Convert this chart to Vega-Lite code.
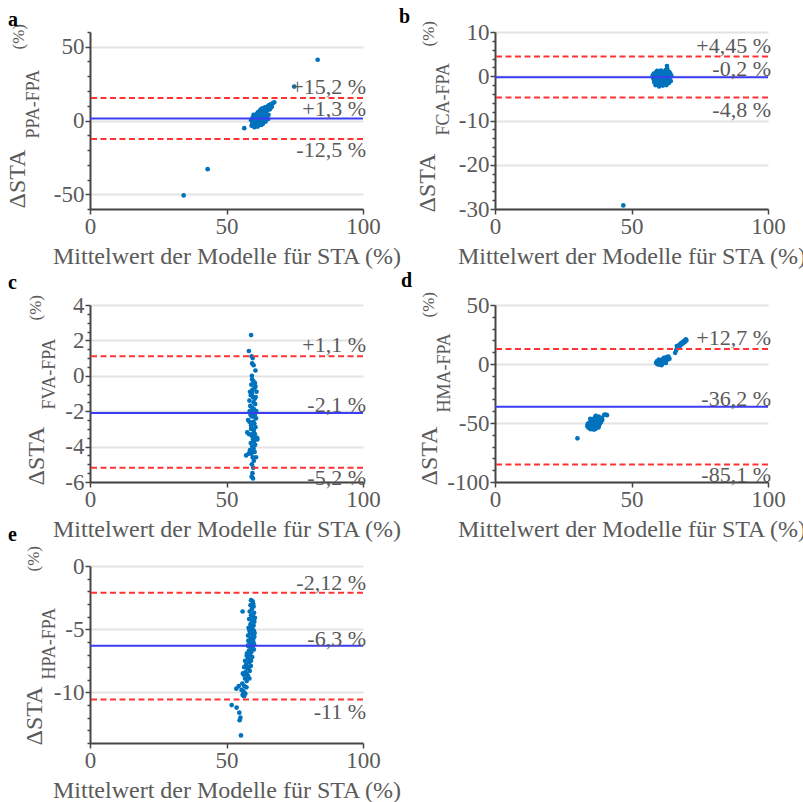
{
"$schema": "https://vega.github.io/schema/vega-lite/v6.json",
"padding": {"left": 5, "top": 6, "right": 0, "bottom": 0},
"columns": 2,
"bounds": "flush",
"spacing": {"row": 84, "column": 132},
"config": {
  "view": {"stroke": null},
  "font": "Liberation Serif",
  "locale": {"number": {"decimal": ",", "thousands": ".", "grouping": [3], "currency": ["", " €"], "minus": "-"}},
  "axis": {"labelFont": "Liberation Serif", "labelFontSize": 23, "labelColor": "#5a5a5a", "titleFont": "Liberation Serif", "titleFontSize": 22, "titleColor": "#5a5a5a", "titleFontWeight": "normal", "domainColor": "#454545", "domainWidth": 2, "tickColor": "#454545", "tickWidth": 1.5, "gridColor": "#e3e3e3", "gridWidth": 2},
  "axisX": {"tickSize": 5, "labelPadding": 1, "titlePadding": 6, "titleFontSize": 24, "labelFlush": false, "grid": false, "zindex": 1},
  "axisY": {"titleAngle": 270, "titleAlign": "left", "titleBaseline": "alphabetic", "labelPadding": 1, "tickSize": 5, "grid": false},
  "text": {"font": "Liberation Serif", "fontSize": 22, "color": "#5a5a5a", "align": "right"},
  "circle": {"size": 22, "color": "#0072BD", "opacity": 1},
  "rule": {"strokeWidth": 2},
  "title": {"anchor": "start", "frame": "group", "font": "Liberation Serif", "fontSize": 20, "fontWeight": "bold", "color": "#000000", "baseline": "alphabetic"}
},
"datasets": {
  "lines": [
    {"p": "a", "v": 15.2, "k": "loa", "pos": "up", "t": "+15,2 %"},
    {"p": "a", "v": 1.3, "k": "mean", "pos": "mid", "t": "+1,3 %"},
    {"p": "a", "v": -12.5, "k": "loa", "pos": "down", "t": "-12,5 %"},
    {"p": "b", "v": 4.45, "k": "loa", "pos": "up", "t": "+4,45 %"},
    {"p": "b", "v": -0.2, "k": "mean", "pos": "mid", "t": "-0,2 %"},
    {"p": "b", "v": -4.8, "k": "loa", "pos": "down", "t": "-4,8 %"},
    {"p": "c", "v": 1.1, "k": "loa", "pos": "up", "t": "+1,1 %"},
    {"p": "c", "v": -2.1, "k": "mean", "pos": "mid", "t": "-2,1 %"},
    {"p": "c", "v": -5.2, "k": "loa", "pos": "down", "t": "-5,2 %"},
    {"p": "d", "v": 12.7, "k": "loa", "pos": "up", "t": "+12,7 %"},
    {"p": "d", "v": -36.2, "k": "mean", "pos": "mid", "t": "-36,2 %"},
    {"p": "d", "v": -85.1, "k": "loa", "pos": "down", "t": "-85,1 %"},
    {"p": "e", "v": -2.12, "k": "loa", "pos": "up", "t": "-2,12 %"},
    {"p": "e", "v": -6.3, "k": "mean", "pos": "mid", "t": "-6,3 %"},
    {"p": "e", "v": -10.55, "k": "loa", "pos": "down", "t": "-11 %"}
  ],
  "pts": [
    {"p":"a","m":59.2,"d":-3.5},{"p":"a","m":59.5,"d":-1.8},{"p":"a","m":59.8,"d":0.5},{"p":"a","m":60.0,"d":-2.6},{"p":"a","m":60.1,"d":1.8},{"p":"a","m":60.3,"d":-0.9},{"p":"a","m":60.4,"d":3.2},{"p":"a","m":60.6,"d":-3.9},{"p":"a","m":60.7,"d":0.1},{"p":"a","m":60.9,"d":2.4},
    {"p":"a","m":61.0,"d":-1.5},{"p":"a","m":61.1,"d":4.5},{"p":"a","m":61.2,"d":-2.9},{"p":"a","m":61.3,"d":1.0},{"p":"a","m":61.5,"d":5.6},{"p":"a","m":61.6,"d":-0.4},{"p":"a","m":61.7,"d":2.9},{"p":"a","m":61.8,"d":-3.2},{"p":"a","m":62.0,"d":0.8},{"p":"a","m":62.1,"d":4.0},
    {"p":"a","m":62.2,"d":6.5},{"p":"a","m":62.3,"d":-1.9},{"p":"a","m":62.4,"d":2.1},{"p":"a","m":62.5,"d":7.4},{"p":"a","m":62.6,"d":-0.6},{"p":"a","m":62.8,"d":3.6},{"p":"a","m":62.9,"d":5.1},{"p":"a","m":63.0,"d":1.3},{"p":"a","m":63.1,"d":8.2},{"p":"a","m":63.2,"d":-1.0},
    {"p":"a","m":63.4,"d":4.7},{"p":"a","m":63.5,"d":6.1},{"p":"a","m":63.6,"d":2.6},{"p":"a","m":63.8,"d":7.9},{"p":"a","m":64.0,"d":0.5},{"p":"a","m":64.1,"d":9.0},{"p":"a","m":64.2,"d":3.2},{"p":"a","m":64.4,"d":5.8},{"p":"a","m":64.6,"d":8.6},{"p":"a","m":64.8,"d":1.8},
    {"p":"a","m":65.0,"d":6.9},{"p":"a","m":65.2,"d":9.7},{"p":"a","m":65.4,"d":3.9},{"p":"a","m":65.6,"d":10.5},{"p":"a","m":65.9,"d":7.6},{"p":"a","m":66.2,"d":11.0},{"p":"a","m":66.6,"d":9.3},{"p":"a","m":67.0,"d":11.8},{"p":"a","m":67.5,"d":12.3},{"p":"a","m":59.0,"d":0.2},
    {"p":"a","m":59.6,"d":2.0},{"p":"a","m":60.2,"d":-4.5},{"p":"a","m":60.8,"d":-0.2},{"p":"a","m":61.4,"d":-4.1},{"p":"a","m":62.7,"d":-3.0},{"p":"a","m":63.3,"d":-2.3},{"p":"a","m":64.3,"d":-0.8},{"p":"a","m":65.3,"d":1.0},{"p":"a","m":59.9,"d":3.8},{"p":"a","m":61.9,"d":5.0},
    {"p":"a","m":83.4,"d":41.2},{"p":"a","m":74.8,"d":23.0},{"p":"a","m":43.1,"d":-33.0},{"p":"a","m":34.3,"d":-50.8},{"p":"a","m":56.5,"d":-5.2},

    {"p":"b","m":58.0,"d":-0.5},{"p":"b","m":58.2,"d":0.6},{"p":"b","m":58.4,"d":-1.4},{"p":"b","m":58.6,"d":0.1},{"p":"b","m":58.8,"d":-2.0},{"p":"b","m":59.0,"d":0.9},{"p":"b","m":59.1,"d":-0.9},{"p":"b","m":59.3,"d":-1.8},{"p":"b","m":59.5,"d":0.3},{"p":"b","m":59.6,"d":-0.3},
    {"p":"b","m":59.8,"d":1.1},{"p":"b","m":60.0,"d":-1.2},{"p":"b","m":60.1,"d":-2.3},{"p":"b","m":60.3,"d":0.5},{"p":"b","m":60.5,"d":-0.7},{"p":"b","m":60.6,"d":-1.9},{"p":"b","m":60.8,"d":1.3},{"p":"b","m":61.0,"d":-0.1},{"p":"b","m":61.1,"d":-1.5},{"p":"b","m":61.3,"d":0.8},
    {"p":"b","m":61.5,"d":-2.1},{"p":"b","m":61.6,"d":-0.6},{"p":"b","m":61.8,"d":1.0},{"p":"b","m":62.0,"d":-1.0},{"p":"b","m":62.1,"d":0.3},{"p":"b","m":62.3,"d":-1.7},{"p":"b","m":62.5,"d":1.4},{"p":"b","m":62.6,"d":-0.4},{"p":"b","m":62.8,"d":-2.0},{"p":"b","m":63.0,"d":0.7},
    {"p":"b","m":63.0,"d":2.3},{"p":"b","m":63.1,"d":1.7},{"p":"b","m":63.2,"d":-1.2},{"p":"b","m":63.4,"d":0.2},{"p":"b","m":63.6,"d":-0.8},{"p":"b","m":63.8,"d":1.0},{"p":"b","m":64.0,"d":-0.3},{"p":"b","m":64.2,"d":0.6},{"p":"b","m":64.4,"d":-1.1},{"p":"b","m":57.8,"d":0.2},
    {"p":"b","m":58.3,"d":-1.0},{"p":"b","m":59.4,"d":1.2},{"p":"b","m":60.2,"d":0.0},{"p":"b","m":60.9,"d":0.4},{"p":"b","m":61.9,"d":-0.2},{"p":"b","m":62.7,"d":0.5},{"p":"b","m":63.3,"d":-0.5},{"p":"b","m":59.9,"d":-0.5},{"p":"b","m":61.4,"d":0.9},{"p":"b","m":62.4,"d":-1.3},
    {"p":"b","m":58.9,"d":-0.2},{"p":"b","m":60.7,"d":-1.1},{"p":"b","m":63.7,"d":-1.5},{"p":"b","m":64.6,"d":0.1},{"p":"b","m":47.0,"d":-29.2},

    {"p":"c","m":59.0,"d":2.3},{"p":"c","m":58.2,"d":1.4},{"p":"c","m":59.2,"d":1.1},{"p":"c","m":59.6,"d":1.0},{"p":"c","m":59.4,"d":0.7},{"p":"c","m":60.6,"d":0.3},{"p":"c","m":59.3,"d":0.0},{"p":"c","m":59.8,"d":-0.3},{"p":"c","m":60.4,"d":-0.4},{"p":"c","m":59.1,"d":-0.5},
    {"p":"c","m":60.2,"d":-0.7},{"p":"c","m":59.5,"d":-0.8},{"p":"c","m":61.0,"d":-0.9},{"p":"c","m":58.9,"d":-1.1},{"p":"c","m":59.7,"d":-1.2},{"p":"c","m":60.3,"d":-1.3},{"p":"c","m":58.4,"d":-1.4},{"p":"c","m":59.9,"d":-1.5},{"p":"c","m":60.5,"d":-1.6},{"p":"c","m":58.7,"d":-1.7},
    {"p":"c","m":59.4,"d":-1.8},{"p":"c","m":60.1,"d":-1.9},{"p":"c","m":58.5,"d":-2.0},{"p":"c","m":59.6,"d":-2.1},{"p":"c","m":60.4,"d":-2.2},{"p":"c","m":59.2,"d":-2.3},{"p":"c","m":60.8,"d":-2.4},{"p":"c","m":57.9,"d":-2.5},{"p":"c","m":59.8,"d":-2.6},{"p":"c","m":60.2,"d":-2.7},
    {"p":"c","m":59.0,"d":-2.8},{"p":"c","m":60.6,"d":-2.9},{"p":"c","m":58.4,"d":-2.6},{"p":"c","m":59.5,"d":-3.0},{"p":"c","m":60.0,"d":-3.1},{"p":"c","m":57.6,"d":-3.2},{"p":"c","m":60.4,"d":-3.3},{"p":"c","m":59.3,"d":-3.4},{"p":"c","m":61.2,"d":-3.5},{"p":"c","m":58.3,"d":-3.3},
    {"p":"c","m":59.7,"d":-3.6},{"p":"c","m":60.1,"d":-3.7},{"p":"c","m":58.9,"d":-3.8},{"p":"c","m":60.5,"d":-3.9},{"p":"c","m":59.4,"d":-4.0},{"p":"c","m":59.9,"d":-4.1},{"p":"c","m":58.6,"d":-4.2},{"p":"c","m":60.3,"d":-4.3},{"p":"c","m":59.1,"d":-4.4},{"p":"c","m":57.2,"d":-4.5},
    {"p":"c","m":59.6,"d":-4.6},{"p":"c","m":60.0,"d":-4.8},{"p":"c","m":59.3,"d":-5.0},{"p":"c","m":59.8,"d":-5.2},{"p":"c","m":59.5,"d":-5.5},{"p":"c","m":59.2,"d":-5.7},{"p":"c","m":59.7,"d":-5.8},{"p":"c","m":59.4,"d":-0.2},{"p":"c","m":60.7,"d":-1.2},{"p":"c","m":59.1,"d":-2.0},
    {"p":"c","m":60.0,"d":-2.3},{"p":"c","m":59.6,"d":-3.3},{"p":"c","m":60.9,"d":-2.0},{"p":"c","m":59.9,"d":0.6},{"p":"c","m":59.3,"d":-1.0},{"p":"c","m":60.2,"d":-3.5},{"p":"c","m":58.8,"d":-2.2},{"p":"c","m":59.5,"d":-4.3},{"p":"c","m":60.6,"d":-0.6},{"p":"c","m":59.0,"d":-3.0},
    {"p":"c","m":61.3,"d":-3.6},{"p":"c","m":58.1,"d":-4.4},{"p":"c","m":60.8,"d":-4.6},{"p":"c","m":58.6,"d":-0.9},

    {"p":"d","m":59.0,"d":1.0},{"p":"d","m":59.3,"d":2.2},{"p":"d","m":59.6,"d":0.3},{"p":"d","m":59.9,"d":1.8},{"p":"d","m":60.1,"d":-0.5},{"p":"d","m":60.3,"d":2.9},{"p":"d","m":60.5,"d":1.1},{"p":"d","m":60.7,"d":0.0},{"p":"d","m":60.9,"d":3.3},{"p":"d","m":61.1,"d":1.9},
    {"p":"d","m":61.3,"d":0.6},{"p":"d","m":61.5,"d":4.0},{"p":"d","m":61.6,"d":2.5},{"p":"d","m":61.8,"d":1.2},{"p":"d","m":62.0,"d":3.7},{"p":"d","m":62.2,"d":4.8},{"p":"d","m":62.3,"d":2.0},{"p":"d","m":62.5,"d":5.5},{"p":"d","m":62.7,"d":3.1},{"p":"d","m":62.9,"d":4.5},
    {"p":"d","m":63.1,"d":5.9},{"p":"d","m":63.3,"d":3.8},{"p":"d","m":63.6,"d":5.2},{"p":"d","m":63.9,"d":4.4},{"p":"d","m":60.0,"d":3.8},{"p":"d","m":61.0,"d":-1.0},{"p":"d","m":62.6,"d":0.9},{"p":"d","m":59.5,"d":-0.2},{"p":"d","m":61.9,"d":5.3},{"p":"d","m":63.5,"d":6.3},
    {"p":"d","m":66.0,"d":9.5},{"p":"d","m":66.4,"d":11.8},{"p":"d","m":66.8,"d":13.5},{"p":"d","m":67.1,"d":15.0},{"p":"d","m":67.5,"d":16.2},{"p":"d","m":67.8,"d":15.5},{"p":"d","m":68.1,"d":17.4},{"p":"d","m":68.4,"d":16.8},{"p":"d","m":68.7,"d":18.5},{"p":"d","m":69.0,"d":17.9},
    {"p":"d","m":69.3,"d":19.6},{"p":"d","m":69.6,"d":18.8},{"p":"d","m":69.9,"d":20.8},{"p":"d","m":70.1,"d":20.0},{"p":"d","m":66.6,"d":15.2},{"p":"d","m":67.3,"d":14.0},
    {"p":"d","m":33.8,"d":-52.5},{"p":"d","m":34.0,"d":-50.8},{"p":"d","m":34.2,"d":-54.0},{"p":"d","m":34.4,"d":-51.9},{"p":"d","m":34.6,"d":-49.6},{"p":"d","m":34.8,"d":-53.2},{"p":"d","m":35.0,"d":-55.2},{"p":"d","m":35.1,"d":-50.4},{"p":"d","m":35.3,"d":-52.8},{"p":"d","m":35.5,"d":-48.7},
    {"p":"d","m":35.6,"d":-54.5},{"p":"d","m":35.8,"d":-51.3},{"p":"d","m":36.0,"d":-46.9},{"p":"d","m":36.1,"d":-53.6},{"p":"d","m":36.3,"d":-49.8},{"p":"d","m":36.5,"d":-52.2},{"p":"d","m":36.6,"d":-45.3},{"p":"d","m":36.8,"d":-55.0},{"p":"d","m":37.0,"d":-50.9},{"p":"d","m":37.1,"d":-48.2},
    {"p":"d","m":37.3,"d":-53.1},{"p":"d","m":37.5,"d":-46.4},{"p":"d","m":37.6,"d":-51.6},{"p":"d","m":37.8,"d":-49.2},{"p":"d","m":38.0,"d":-44.5},{"p":"d","m":38.1,"d":-52.4},{"p":"d","m":38.3,"d":-47.8},{"p":"d","m":38.5,"d":-50.3},{"p":"d","m":38.7,"d":-46.0},{"p":"d","m":38.9,"d":-48.9},
    {"p":"d","m":39.1,"d":-45.6},{"p":"d","m":39.3,"d":-47.2},{"p":"d","m":40.0,"d":-43.1},{"p":"d","m":40.5,"d":-42.8},{"p":"d","m":41.0,"d":-43.4},{"p":"d","m":30.2,"d":-63.0},{"p":"d","m":35.4,"d":-47.0},{"p":"d","m":36.9,"d":-44.0},{"p":"d","m":34.9,"d":-46.5},{"p":"d","m":36.2,"d":-55.6},
    {"p":"d","m":37.9,"d":-53.8},{"p":"d","m":35.7,"d":-50.0},{"p":"d","m":36.4,"d":-48.0},{"p":"d","m":37.2,"d":-52.0},

    {"p":"e","m":59.0,"d":-2.7},{"p":"e","m":59.6,"d":-2.8},{"p":"e","m":58.8,"d":-3.1},{"p":"e","m":59.9,"d":-3.2},{"p":"e","m":59.3,"d":-3.4},{"p":"e","m":58.5,"d":-3.6},{"p":"e","m":60.1,"d":-3.7},{"p":"e","m":59.0,"d":-3.9},{"p":"e","m":59.7,"d":-4.0},{"p":"e","m":58.3,"d":-4.2},
    {"p":"e","m":59.4,"d":-4.3},{"p":"e","m":60.2,"d":-4.4},{"p":"e","m":58.8,"d":-4.6},{"p":"e","m":59.9,"d":-4.7},{"p":"e","m":58.1,"d":-4.9},{"p":"e","m":59.2,"d":-5.0},{"p":"e","m":60.0,"d":-5.1},{"p":"e","m":58.6,"d":-5.3},{"p":"e","m":59.5,"d":-5.4},{"p":"e","m":57.9,"d":-5.5},
    {"p":"e","m":60.2,"d":-5.6},{"p":"e","m":58.9,"d":-5.7},{"p":"e","m":59.7,"d":-5.8},{"p":"e","m":58.3,"d":-6.0},{"p":"e","m":59.2,"d":-6.1},{"p":"e","m":60.1,"d":-6.2},{"p":"e","m":57.8,"d":-6.3},{"p":"e","m":58.7,"d":-6.4},{"p":"e","m":59.6,"d":-6.5},{"p":"e","m":58.2,"d":-6.7},
    {"p":"e","m":59.1,"d":-6.8},{"p":"e","m":57.5,"d":-6.9},{"p":"e","m":58.6,"d":-7.0},{"p":"e","m":59.4,"d":-7.2},{"p":"e","m":57.9,"d":-7.3},{"p":"e","m":56.8,"d":-7.5},{"p":"e","m":58.3,"d":-7.6},{"p":"e","m":57.2,"d":-7.8},{"p":"e","m":58.9,"d":-7.9},{"p":"e","m":56.5,"d":-8.0},
    {"p":"e","m":57.7,"d":-8.1},{"p":"e","m":58.5,"d":-8.3},{"p":"e","m":57.0,"d":-8.4},{"p":"e","m":56.3,"d":-8.6},{"p":"e","m":57.9,"d":-8.7},{"p":"e","m":56.8,"d":-8.9},{"p":"e","m":57.4,"d":-9.1},{"p":"e","m":55.8,"d":-9.3},{"p":"e","m":56.5,"d":-9.5},{"p":"e","m":57.3,"d":-9.6},
    {"p":"e","m":55.5,"d":-9.8},{"p":"e","m":56.2,"d":-9.9},{"p":"e","m":56.9,"d":-10.1},{"p":"e","m":56.4,"d":-10.3},{"p":"e","m":55.9,"d":-10.2},{"p":"e","m":59.5,"d":-4.8},{"p":"e","m":60.3,"d":-5.3},{"p":"e","m":58.4,"d":-5.1},{"p":"e","m":59.8,"d":-6.0},{"p":"e","m":58.0,"d":-7.1},
    {"p":"e","m":59.0,"d":-7.5},{"p":"e","m":57.5,"d":-8.6},{"p":"e","m":58.2,"d":-8.0},{"p":"e","m":56.0,"d":-8.5},{"p":"e","m":58.4,"d":-8.9},{"p":"e","m":59.8,"d":-3.0},{"p":"e","m":60.4,"d":-4.1},{"p":"e","m":60.0,"d":-6.6},{"p":"e","m":58.0,"d":-5.9},{"p":"e","m":57.4,"d":-7.1},
    {"p":"e","m":55.9,"d":-3.6},{"p":"e","m":51.9,"d":-11.0},{"p":"e","m":53.7,"d":-11.2},{"p":"e","m":54.7,"d":-11.6},{"p":"e","m":55.1,"d":-12.0},{"p":"e","m":54.8,"d":-12.2},{"p":"e","m":55.3,"d":-13.4},{"p":"e","m":53.6,"d":-9.7},{"p":"e","m":54.5,"d":-9.5}
  ]
},
"concat": [
  {
    "width": 273, "height": 189,
    "title": {"text": "a", "dx": -82, "offset": -6},
    "resolve": {"axis": {"y": "independent"}},
    "layer": [
      {"data": {"name": "pts"}, "transform": [{"filter": "datum.p === 'a'"}], "mark": {"type": "circle"},
       "encoding": {
         "x": {"field": "m", "type": "quantitative", "scale": {"domain": [0, 100]}, "axis": {"values": [0, 50, 100], "offset": -12, "title": "Mittelwert der Modelle für STA (%)"}},
         "y": {"field": "d", "type": "quantitative", "scale": {"domain": [-60, 60], "range": [177, 0]}, "axis": {"orient": "left", "values": [-50, 0, 50], "grid": true, "title": "ΔSTA", "titleFontSize": 24, "titleX": -66, "titleY": 176}}}},
      {"data": {"name": "lines"}, "transform": [{"filter": "datum.p === 'a'"}], "mark": {"type": "rule"},
       "encoding": {
         "y": {"field": "v", "type": "quantitative", "scale": {"domain": [-60, 60], "range": [177, 0]}, "axis": {"orient": "left", "values": [-60, -40, -30, -20, -10, 10, 20, 30, 40, 60], "labels": false, "domain": false, "tickSize": 3, "title": "PPA-FPA", "titleFontSize": 18, "titleX": -52, "titleY": 106}},
         "color": {"field": "k", "type": "nominal", "scale": {"domain": ["mean", "loa"], "range": ["#3c3cf5", "#ff3333"]}, "legend": null},
         "strokeDash": {"field": "k", "type": "nominal", "scale": {"domain": ["mean", "loa"], "range": [[1, 0], [6, 3.5]]}, "legend": null}}},
      {"data": {"name": "lines"}, "transform": [{"filter": "datum.p === 'a' && datum.pos === 'up'"}], "mark": {"type": "text", "baseline": "alphabetic", "dx": 3, "dy": -4},
       "encoding": {"x": {"datum": 100, "type": "quantitative", "scale": {"domain": [0, 100]}, "axis": {"values": [0, 50, 100], "offset": -12, "title": "Mittelwert der Modelle für STA (%)"}}, "y": {"field": "v", "type": "quantitative", "scale": {"domain": [-60, 60], "range": [177, 0]}, "axis": {"orient": "left", "labels": false, "domain": false, "ticks": false, "title": "(%)", "titleFontSize": 17, "titleX": -67, "titleY": 17}}, "text": {"field": "t"}}},
      {"data": {"name": "lines"}, "transform": [{"filter": "datum.p === 'a' && datum.pos === 'mid'"}], "mark": {"type": "text", "baseline": "alphabetic", "dx": 3, "dy": -3},
       "encoding": {"x": {"datum": 100, "type": "quantitative", "scale": {"domain": [0, 100]}, "axis": {"values": [0, 50, 100], "offset": -12, "title": "Mittelwert der Modelle für STA (%)"}}, "y": {"field": "v", "type": "quantitative", "scale": {"domain": [-60, 60], "range": [177, 0]}, "axis": null}, "text": {"field": "t"}}},
      {"data": {"name": "lines"}, "transform": [{"filter": "datum.p === 'a' && datum.pos === 'down'"}], "mark": {"type": "text", "baseline": "top", "dx": 3, "dy": 1},
       "encoding": {"x": {"datum": 100, "type": "quantitative", "scale": {"domain": [0, 100]}, "axis": {"values": [0, 50, 100], "offset": -12, "title": "Mittelwert der Modelle für STA (%)"}}, "y": {"field": "v", "type": "quantitative", "scale": {"domain": [-60, 60], "range": [177, 0]}, "axis": null}, "text": {"field": "t"}}}
    ]
  },
  {
    "width": 273, "height": 189,
    "title": {"text": "b", "dx": -96, "offset": -6},
    "resolve": {"axis": {"y": "independent"}},
    "layer": [
      {"data": {"name": "pts"}, "transform": [{"filter": "datum.p === 'b'"}], "mark": {"type": "circle"},
       "encoding": {
         "x": {"field": "m", "type": "quantitative", "scale": {"domain": [0, 100]}, "axis": {"values": [0, 50, 100], "offset": -12, "title": "Mittelwert der Modelle für STA (%)"}},
         "y": {"field": "d", "type": "quantitative", "scale": {"domain": [-30, 10], "range": [177, 0]}, "axis": {"orient": "left", "values": [-30, -20, -10, 0, 10], "grid": true, "title": "ΔSTA", "titleFontSize": 24, "titleX": -61, "titleY": 180}}}},
      {"data": {"name": "lines"}, "transform": [{"filter": "datum.p === 'b'"}], "mark": {"type": "rule"},
       "encoding": {
         "y": {"field": "v", "type": "quantitative", "scale": {"domain": [-30, 10], "range": [177, 0]}, "axis": {"orient": "left", "values": [-28, -26, -24, -22, -18, -16, -14, -12, -8, -6, -4, -2, 2, 4, 6, 8], "labels": false, "domain": false, "tickSize": 3, "title": "FCA-FPA", "titleFontSize": 18, "titleX": -47, "titleY": 103}},
         "color": {"field": "k", "type": "nominal", "scale": {"domain": ["mean", "loa"], "range": ["#3c3cf5", "#ff3333"]}, "legend": null},
         "strokeDash": {"field": "k", "type": "nominal", "scale": {"domain": ["mean", "loa"], "range": [[1, 0], [6, 3.5]]}, "legend": null}}},
      {"data": {"name": "lines"}, "transform": [{"filter": "datum.p === 'b' && datum.pos === 'up'"}], "mark": {"type": "text", "baseline": "alphabetic", "dx": 3, "dy": -4},
       "encoding": {"x": {"datum": 100, "type": "quantitative", "scale": {"domain": [0, 100]}, "axis": {"values": [0, 50, 100], "offset": -12, "title": "Mittelwert der Modelle für STA (%)"}}, "y": {"field": "v", "type": "quantitative", "scale": {"domain": [-30, 10], "range": [177, 0]}, "axis": {"orient": "left", "labels": false, "domain": false, "ticks": false, "title": "(%)", "titleFontSize": 17, "titleX": -62, "titleY": 14}}, "text": {"field": "t"}}},
      {"data": {"name": "lines"}, "transform": [{"filter": "datum.p === 'b' && datum.pos === 'mid'"}], "mark": {"type": "text", "baseline": "alphabetic", "dx": 3, "dy": -1},
       "encoding": {"x": {"datum": 100, "type": "quantitative", "scale": {"domain": [0, 100]}, "axis": {"values": [0, 50, 100], "offset": -12, "title": "Mittelwert der Modelle für STA (%)"}}, "y": {"field": "v", "type": "quantitative", "scale": {"domain": [-30, 10], "range": [177, 0]}, "axis": null}, "text": {"field": "t"}}},
      {"data": {"name": "lines"}, "transform": [{"filter": "datum.p === 'b' && datum.pos === 'down'"}], "mark": {"type": "text", "baseline": "top", "dx": 3, "dy": 3},
       "encoding": {"x": {"datum": 100, "type": "quantitative", "scale": {"domain": [0, 100]}, "axis": {"values": [0, 50, 100], "offset": -12, "title": "Mittelwert der Modelle für STA (%)"}}, "y": {"field": "v", "type": "quantitative", "scale": {"domain": [-30, 10], "range": [177, 0]}, "axis": null}, "text": {"field": "t"}}}
    ]
  },
  {
    "width": 273, "height": 177,
    "title": {"text": "c", "dx": -82, "offset": 1},
    "resolve": {"axis": {"y": "independent"}},
    "layer": [
      {"data": {"name": "pts"}, "transform": [{"filter": "datum.p === 'c'"}], "mark": {"type": "circle"},
       "encoding": {
         "x": {"field": "m", "type": "quantitative", "scale": {"domain": [0, 100]}, "axis": {"values": [0, 50, 100], "title": "Mittelwert der Modelle für STA (%)"}},
         "y": {"field": "d", "type": "quantitative", "scale": {"domain": [-6, 4]}, "axis": {"orient": "left", "values": [-6, -4, -2, 0, 2, 4], "grid": true, "title": "ΔSTA", "titleFontSize": 24, "titleX": -47, "titleY": 180}}}},
      {"data": {"name": "lines"}, "transform": [{"filter": "datum.p === 'c'"}], "mark": {"type": "rule"},
       "encoding": {
         "y": {"field": "v", "type": "quantitative", "scale": {"domain": [-6, 4]}, "axis": {"orient": "left", "values": [-5.5, -5, -4.5, -3.5, -3, -2.5, -1.5, -1, -0.5, 0.5, 1, 1.5, 2.5, 3, 3.5], "labels": false, "domain": false, "tickSize": 3, "title": "FVA-FPA", "titleFontSize": 18, "titleX": -36, "titleY": 104}},
         "color": {"field": "k", "type": "nominal", "scale": {"domain": ["mean", "loa"], "range": ["#3c3cf5", "#ff3333"]}, "legend": null},
         "strokeDash": {"field": "k", "type": "nominal", "scale": {"domain": ["mean", "loa"], "range": [[1, 0], [6, 3.5]]}, "legend": null}}},
      {"data": {"name": "lines"}, "transform": [{"filter": "datum.p === 'c' && datum.pos === 'up'"}], "mark": {"type": "text", "baseline": "alphabetic", "dx": 3, "dy": -4},
       "encoding": {"x": {"datum": 100, "type": "quantitative", "scale": {"domain": [0, 100]}, "axis": {"values": [0, 50, 100], "title": "Mittelwert der Modelle für STA (%)"}}, "y": {"field": "v", "type": "quantitative", "scale": {"domain": [-6, 4]}, "axis": {"orient": "left", "labels": false, "domain": false, "ticks": false, "title": "(%)", "titleFontSize": 17, "titleX": -50, "titleY": 15}}, "text": {"field": "t"}}},
      {"data": {"name": "lines"}, "transform": [{"filter": "datum.p === 'c' && datum.pos === 'mid'"}], "mark": {"type": "text", "baseline": "alphabetic", "dx": 3, "dy": -1},
       "encoding": {"x": {"datum": 100, "type": "quantitative", "scale": {"domain": [0, 100]}, "axis": {"values": [0, 50, 100], "title": "Mittelwert der Modelle für STA (%)"}}, "y": {"field": "v", "type": "quantitative", "scale": {"domain": [-6, 4]}, "axis": null}, "text": {"field": "t"}}},
      {"data": {"name": "lines"}, "transform": [{"filter": "datum.p === 'c' && datum.pos === 'down'"}], "mark": {"type": "text", "baseline": "top", "dx": 3, "dy": 0},
       "encoding": {"x": {"datum": 100, "type": "quantitative", "scale": {"domain": [0, 100]}, "axis": {"values": [0, 50, 100], "title": "Mittelwert der Modelle für STA (%)"}}, "y": {"field": "v", "type": "quantitative", "scale": {"domain": [-6, 4]}, "axis": null}, "text": {"field": "t"}}}
    ]
  },
  {
    "width": 273, "height": 177,
    "title": {"text": "d", "dx": -94, "offset": 1},
    "resolve": {"axis": {"y": "independent"}},
    "layer": [
      {"data": {"name": "pts"}, "transform": [{"filter": "datum.p === 'd'"}], "mark": {"type": "circle"},
       "encoding": {
         "x": {"field": "m", "type": "quantitative", "scale": {"domain": [0, 100]}, "axis": {"values": [0, 50, 100], "title": "Mittelwert der Modelle für STA (%)"}},
         "y": {"field": "d", "type": "quantitative", "scale": {"domain": [-100, 50]}, "axis": {"orient": "left", "values": [-100, -50, 0, 50], "grid": true, "title": "ΔSTA", "titleFontSize": 24, "titleX": -59, "titleY": 180}}}},
      {"data": {"name": "lines"}, "transform": [{"filter": "datum.p === 'd'"}], "mark": {"type": "rule"},
       "encoding": {
         "y": {"field": "v", "type": "quantitative", "scale": {"domain": [-100, 50]}, "axis": {"orient": "left", "values": [-90, -80, -70, -60, -40, -30, -20, -10, 10, 20, 30, 40], "labels": false, "domain": false, "tickSize": 3, "title": "HMA-FPA", "titleFontSize": 18, "titleX": -46, "titleY": 107}},
         "color": {"field": "k", "type": "nominal", "scale": {"domain": ["mean", "loa"], "range": ["#3c3cf5", "#ff3333"]}, "legend": null},
         "strokeDash": {"field": "k", "type": "nominal", "scale": {"domain": ["mean", "loa"], "range": [[1, 0], [6, 3.5]]}, "legend": null}}},
      {"data": {"name": "lines"}, "transform": [{"filter": "datum.p === 'd' && datum.pos === 'up'"}], "mark": {"type": "text", "baseline": "alphabetic", "dx": 3, "dy": -4},
       "encoding": {"x": {"datum": 100, "type": "quantitative", "scale": {"domain": [0, 100]}, "axis": {"values": [0, 50, 100], "title": "Mittelwert der Modelle für STA (%)"}}, "y": {"field": "v", "type": "quantitative", "scale": {"domain": [-100, 50]}, "axis": {"orient": "left", "labels": false, "domain": false, "ticks": false, "title": "(%)", "titleFontSize": 17, "titleX": -62, "titleY": 12}}, "text": {"field": "t"}}},
      {"data": {"name": "lines"}, "transform": [{"filter": "datum.p === 'd' && datum.pos === 'mid'"}], "mark": {"type": "text", "baseline": "alphabetic", "dx": 3, "dy": -1},
       "encoding": {"x": {"datum": 100, "type": "quantitative", "scale": {"domain": [0, 100]}, "axis": {"values": [0, 50, 100], "title": "Mittelwert der Modelle für STA (%)"}}, "y": {"field": "v", "type": "quantitative", "scale": {"domain": [-100, 50]}, "axis": null}, "text": {"field": "t"}}},
      {"data": {"name": "lines"}, "transform": [{"filter": "datum.p === 'd' && datum.pos === 'down'"}], "mark": {"type": "text", "baseline": "top", "dx": 3, "dy": 1},
       "encoding": {"x": {"datum": 100, "type": "quantitative", "scale": {"domain": [0, 100]}, "axis": {"values": [0, 50, 100], "title": "Mittelwert der Modelle für STA (%)"}}, "y": {"field": "v", "type": "quantitative", "scale": {"domain": [-100, 50]}, "axis": null}, "text": {"field": "t"}}}
    ]
  },
  {
    "width": 273, "height": 177,
    "title": {"text": "e", "dx": -82, "offset": 1},
    "resolve": {"axis": {"y": "independent"}},
    "layer": [
      {"data": {"name": "pts"}, "transform": [{"filter": "datum.p === 'e'"}], "mark": {"type": "circle"},
       "encoding": {
         "x": {"field": "m", "type": "quantitative", "scale": {"domain": [0, 100]}, "axis": {"values": [0, 50, 100], "title": "Mittelwert der Modelle für STA (%)"}},
         "y": {"field": "d", "type": "quantitative", "scale": {"domain": [-14, 0]}, "axis": {"orient": "left", "values": [-10, -5, 0], "grid": true, "title": "ΔSTA", "titleFontSize": 24, "titleX": -49, "titleY": 179}}}},
      {"data": {"name": "lines"}, "transform": [{"filter": "datum.p === 'e'"}], "mark": {"type": "rule"},
       "encoding": {
         "y": {"field": "v", "type": "quantitative", "scale": {"domain": [-14, 0]}, "axis": {"orient": "left", "values": [-14, -13, -12, -11, -9, -8, -7, -6, -4, -3, -2, -1], "labels": false, "domain": false, "tickSize": 3, "title": "HPA-FPA", "titleFontSize": 18, "titleX": -36, "titleY": 113}},
         "color": {"field": "k", "type": "nominal", "scale": {"domain": ["mean", "loa"], "range": ["#3c3cf5", "#ff3333"]}, "legend": null},
         "strokeDash": {"field": "k", "type": "nominal", "scale": {"domain": ["mean", "loa"], "range": [[1, 0], [6, 3.5]]}, "legend": null}}},
      {"data": {"name": "lines"}, "transform": [{"filter": "datum.p === 'e' && datum.pos === 'up'"}], "mark": {"type": "text", "baseline": "alphabetic", "dx": 3, "dy": -3},
       "encoding": {"x": {"datum": 100, "type": "quantitative", "scale": {"domain": [0, 100]}, "axis": {"values": [0, 50, 100], "title": "Mittelwert der Modelle für STA (%)"}}, "y": {"field": "v", "type": "quantitative", "scale": {"domain": [-14, 0]}, "axis": {"orient": "left", "labels": false, "domain": false, "ticks": false, "title": "(%)", "titleFontSize": 17, "titleX": -52, "titleY": 5}}, "text": {"field": "t"}}},
      {"data": {"name": "lines"}, "transform": [{"filter": "datum.p === 'e' && datum.pos === 'mid'"}], "mark": {"type": "text", "baseline": "alphabetic", "dx": 3, "dy": 0},
       "encoding": {"x": {"datum": 100, "type": "quantitative", "scale": {"domain": [0, 100]}, "axis": {"values": [0, 50, 100], "title": "Mittelwert der Modelle für STA (%)"}}, "y": {"field": "v", "type": "quantitative", "scale": {"domain": [-14, 0]}, "axis": null}, "text": {"field": "t"}}},
      {"data": {"name": "lines"}, "transform": [{"filter": "datum.p === 'e' && datum.pos === 'down'"}], "mark": {"type": "text", "baseline": "top", "dx": 3, "dy": 3},
       "encoding": {"x": {"datum": 100, "type": "quantitative", "scale": {"domain": [0, 100]}, "axis": {"values": [0, 50, 100], "title": "Mittelwert der Modelle für STA (%)"}}, "y": {"field": "v", "type": "quantitative", "scale": {"domain": [-14, 0]}, "axis": null}, "text": {"field": "t"}}}
    ]
  }
]
}
